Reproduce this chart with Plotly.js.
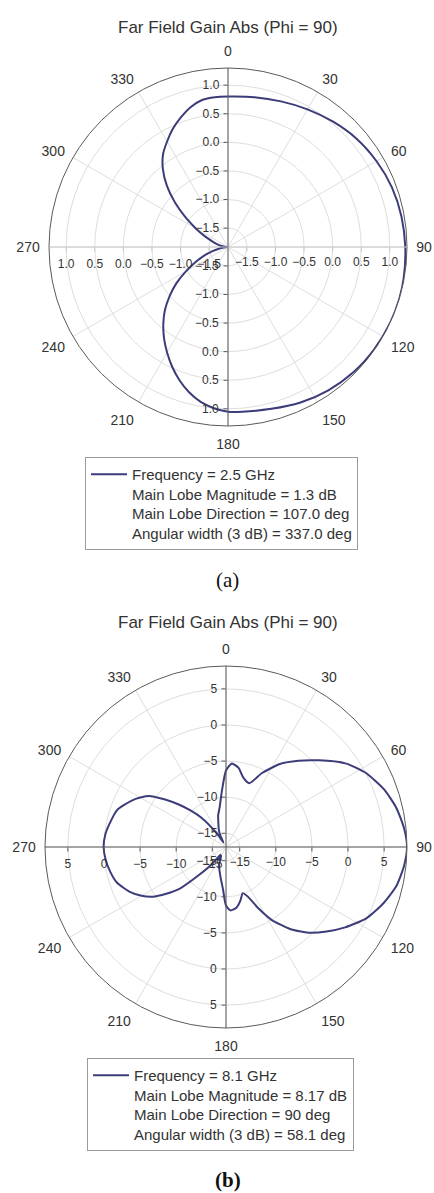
<!DOCTYPE html>
<html>
<head>
<meta charset="utf-8">
<script src="https://cdn.plot.ly/plotly-3.0.1.min.js"></script>
<style>
html,body{margin:0;padding:0;background:#fff;}
#chart{width:434px;height:1193px;}
</style>
</head>
<body>
<div id="chart"></div>
<script>
// ---- data (dB vs angle, degrees clockwise from 0 at top) ----
const thetaA = [0,10,20,30,40,50,60,70,80,90,100,107,115,125,135,145,155,165,175,180,185,190,195,200,205,210,215,220,225,230,235,240,245,250,255,260,265,270,275,280,285,290,295,300,305,310,315,320,325,330,335,340,345,350,355,360];
const gainA  = [0.80,0.83,0.88,0.95,1.03,1.11,1.17,1.22,1.25,1.27,1.29,1.30,1.30,1.29,1.27,1.23,1.17,1.10,1.06,1.05,1.00,0.92,0.80,0.65,0.48,0.30,0.12,-0.07,-0.27,-0.50,-0.73,-0.98,-1.20,-1.38,-1.55,-1.68,-1.78,-1.83,-1.77,-1.70,-1.62,-1.53,-1.38,-1.18,-0.92,-0.62,-0.32,-0.06,0.15,0.30,0.45,0.58,0.70,0.78,0.80,0.80];

const thetaB = [0,4,9,14,20,26,33,40,47,55,62,70,77,84,90,96,103,110,117,124,130,136,142,148,152,156,160,165,170,176,180,184,190,196,202,208,212,216,220,224,228,232,236,240,245,252,258,264,270,276,282,289,296,300,304,308,312,316,320,326,330,334,338,342,346,351,356,360];
const gainB  = [-6.3,-5.3,-5.8,-7.0,-7.5,-5.5,-3.2,-1.3,0.7,3.3,5.0,6.4,7.3,7.9,8.17,7.9,7.3,6.2,4.9,3.0,1.3,-0.4,-2.5,-5.0,-7.2,-9.3,-10.1,-9.2,-8.4,-8.1,-8.8,-11.0,-12.6,-13.6,-14.3,-15.5,-14.8,-15.6,-13.6,-11.5,-8.3,-6.4,-4.6,-3.4,-2.2,-1.0,-0.5,-0.14,0.05,-0.1,-0.5,-1.0,-2.3,-3.2,-4.3,-6.2,-8.1,-9.9,-11.6,-14.6,-16.2,-15.0,-14.2,-13.5,-12.4,-11.3,-9.0,-6.3];

const angleTicks = [0,30,60,90,120,150,180,210,240,270,300,330];
const angleTickText = angleTicks.map(String);

const rangeA = [-1.83, 1.3];
const rangeB = [-16.9, 8.17];
const stepA = 0.5, stepB = 5;

const legendA = ['Frequency = 2.5 GHz','Main Lobe Magnitude = 1.3 dB','Main Lobe Direction = 107.0 deg','Angular width (3 dB) = 337.0 deg'];
const legendB = ['Frequency = 8.1 GHz','Main Lobe Magnitude = 8.17 dB','Main Lobe Direction = 90 deg','Angular width (3 dB) = 58.1 deg'];

const titleText = 'Far Field Gain Abs (Phi = 90)';

// ---- layout helpers ----
const W = 434, H = 1193;
const FONT = 'Liberation Sans, Arial, sans-serif';
const TXT = '#333333';
const DARK = '#5a5a5a';
const LIGHT = '#dedede';
const CURVE = '#3c3c7a';

function py(v){ return 1 - v / H; }
function px(v){ return v / W; }

function polarBase(dom, range, step, fmt){
  return {
    domain: dom,
    bgcolor: '#ffffff',
    angularaxis: {
      direction: 'clockwise', rotation: 90,
      tickmode: 'array', tickvals: angleTicks, ticktext: angleTickText,
      ticks: 'outside', ticklen: 6, tickcolor: 'rgba(0,0,0,0)',
      tickfont: {family: FONT, size: 14, color: TXT},
      showline: true, linecolor: DARK, linewidth: 1,
      showgrid: true, gridcolor: LIGHT, gridwidth: 1
    },
    radialaxis: {
      range: range, angle: 90, side: 'counterclockwise', tickangle: 90,
      tick0: 0, dtick: step, tickformat: fmt,
      ticks: 'outside', ticklen: 4, tickcolor: DARK,
      tickfont: {family: FONT, size: 12, color: TXT},
      showline: true, linecolor: DARK, linewidth: 1,
      showgrid: true, gridcolor: LIGHT, gridwidth: 1
    }
  };
}
function polarOverlay(dom, range, step, fmt, angle, side, tickangle, lineColor){
  return {
    domain: dom,
    bgcolor: 'rgba(0,0,0,0)',
    angularaxis: {
      direction: 'clockwise', rotation: 90,
      showline: false, showgrid: false, showticklabels: false, ticks: ''
    },
    radialaxis: {
      range: range, angle: angle, side: side, tickangle: tickangle,
      tick0: 0, dtick: step, tickformat: fmt,
      ticks: 'outside', ticklen: 4, tickcolor: lineColor,
      tickfont: {family: FONT, size: 12, color: TXT},
      showline: true, linecolor: lineColor, linewidth: 1,
      showgrid: false
    }
  };
}

const domA = {x: [px(49), px(407)], y: [py(426), py(68)]};
const domB = {x: [px(45), px(407)], y: [py(1028), py(666)]};

const traces = [
  {type: 'scatterpolar', mode: 'lines', r: gainA, theta: thetaA, subplot: 'polar',
   line: {color: CURVE, width: 2, shape: 'spline', smoothing: 0.8}, name: legendA.join('<br>'), legend: 'legend'},
  {type: 'scatterpolar', mode: 'lines', r: gainB, theta: thetaB, subplot: 'polar5',
   line: {color: CURVE, width: 2, shape: 'spline', smoothing: 0.6}, name: legendB.join('<br>'), legend: 'legend2'}
];
['polar2','polar3','polar4','polar6','polar7','polar8'].forEach(s => {
  traces.push({type: 'scatterpolar', mode: 'lines', r: [], theta: [], subplot: s, showlegend: false, hoverinfo: 'skip'});
});

const legendStyle = (x, y) => ({
  x: x, y: y, xanchor: 'left', yanchor: 'top',
  bordercolor: '#9a9a9a', borderwidth: 1, bgcolor: '#ffffff',
  font: {family: FONT, size: 15, color: TXT}, valign: 'top', itemwidth: 36
});

const ann = (text, x, y, font) => ({text: text, x: px(x), y: py(y), xref: 'paper', yref: 'paper',
  xanchor: 'center', yanchor: 'middle', showarrow: false, font: font});

const layout = {
  width: W, height: H,
  margin: {l: 0, r: 0, t: 0, b: 0},
  paper_bgcolor: '#ffffff',
  showlegend: true,
  polar:  polarBase(domA, rangeA, stepA, '.1f'),
  polar2: polarOverlay(domA, rangeA, stepA, '.1f', 270, 'clockwise', -90, DARK),
  polar3: polarOverlay(domA, rangeA, stepA, '.1f', 0, 'clockwise', 0, '#c8c8c8'),
  polar4: polarOverlay(domA, rangeA, stepA, '.1f', 180, 'counterclockwise', 180, '#c8c8c8'),
  polar5: polarBase(domB, rangeB, stepB, 'd'),
  polar6: polarOverlay(domB, rangeB, stepB, 'd', 270, 'clockwise', -90, DARK),
  polar7: polarOverlay(domB, rangeB, stepB, 'd', 0, 'clockwise', 0, DARK),
  polar8: polarOverlay(domB, rangeB, stepB, 'd', 180, 'counterclockwise', 180, DARK),
  legend: legendStyle(px(85), py(457)),
  legend2: legendStyle(px(87), py(1058)),
  annotations: [
    ann(titleText, 228, 28, {family: FONT, size: 17, color: TXT}),
    ann(titleText, 228, 622, {family: FONT, size: 17, color: TXT}),
    ann('(a)', 228, 580, {family: 'Liberation Serif, Times New Roman, serif', size: 21, color: '#111'}),
    ann('<b>(b)</b>', 228, 1180, {family: 'Liberation Serif, Times New Roman, serif', size: 21, color: '#111'})
  ]
};

Plotly.newPlot('chart', traces, layout, {staticPlot: true, displayModeBar: false});
</script>
</body>
</html>
